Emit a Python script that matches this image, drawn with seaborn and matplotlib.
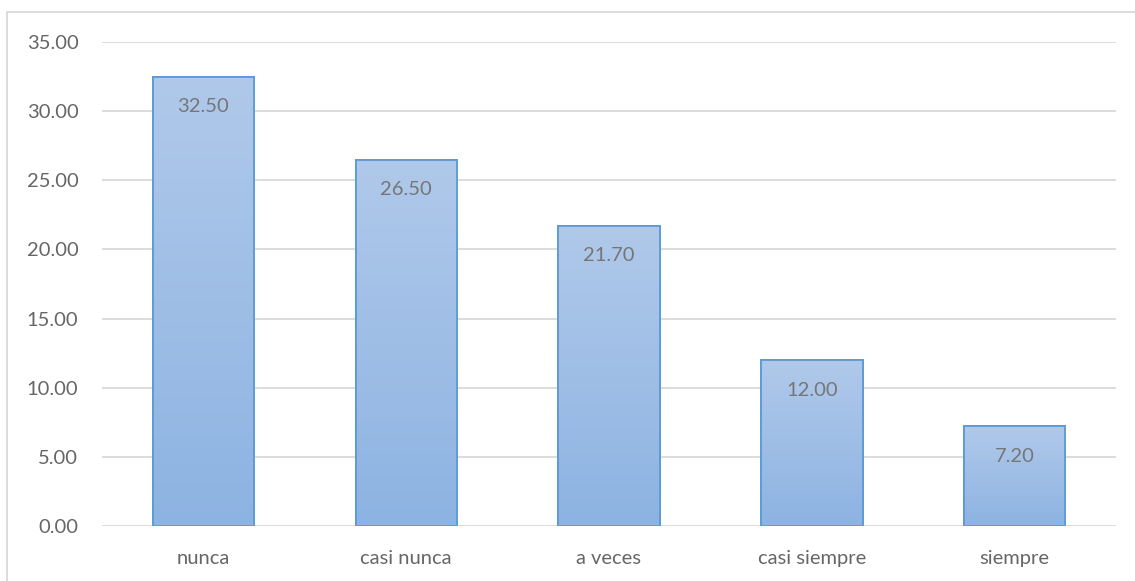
import numpy as np
import pandas as pd
import matplotlib
matplotlib.use("Agg")
import matplotlib.pyplot as plt
import matplotlib.patches as mpatches
from matplotlib.colors import LinearSegmentedColormap
import seaborn as sns

# ── DATA ──────────────────────────────────────────────────────
categories = ["nunca", "casi nunca", "a veces", "casi siempre", "siempre"]
values     = [32.50, 26.50, 21.70, 12.00, 7.20]
yticks     = [0, 5, 10, 15, 20, 25, 30, 35]

df = pd.DataFrame({"cat": categories, "val": values})

sns.set_style("white")
plt.rcParams["font.family"] = ["Lato", "DejaVu Sans"]

fig = plt.figure(figsize=(11.35, 5.81), dpi=100)
ax = fig.add_axes([102/1135, 1 - 526/581, (1116-102)/1135, (526-42)/581])

sns.barplot(data=df, x="cat", y="val", ax=ax, width=0.5,
            color="#a3bfe6", edgecolor="#5b9bd5", linewidth=1.3, zorder=2)

# Excel-style vertical gradient inside each bar
grad = LinearSegmentedColormap.from_list("g", ["#8db3e2", "#b0c9ea"])
for bar in ax.patches:
    x0, y0 = bar.get_x(), bar.get_y()
    w, h = bar.get_width(), bar.get_height()
    im = ax.imshow(np.linspace(0, 1, 256).reshape(-1, 1), cmap=grad, origin="lower",
                   extent=[x0, x0 + w, y0, y0 + h], aspect="auto", zorder=2.5)
    im.set_clip_path(bar)
    edge = mpatches.Rectangle((x0, y0), w, h, fill=False, edgecolor="#5b9bd5",
                              linewidth=1.3, zorder=3)
    ax.add_patch(edge)
    ax.annotate(f"{h:.2f}", xy=(x0 + w/2, y0 + h), xytext=(0, -30),
                textcoords="offset pixels",
                ha="center", va="center", fontsize=14.5, color="#767676", zorder=4)

ax.set_xlim(-0.5, len(categories) - 0.5)
ax.set_ylim(0, 35)
ax.set_yticks(yticks)
ax.set_yticklabels([f"{v:.2f}" for v in yticks])
ax.yaxis.grid(True, color="#d9d9d9", linewidth=1.3, zorder=0)
ax.set_axisbelow(True)
for s in ax.spines.values():
    s.set_visible(False)
ax.tick_params(axis="both", length=0, labelsize=14.5, labelcolor="#666666")
ax.tick_params(axis="y", pad=17)
ax.tick_params(axis="x", pad=17)
ax.set_xlabel("")
ax.set_ylabel("")

# chart area border
fig.patches.append(mpatches.Rectangle((7/1135, -0.05), 1.1, 1 - 12/581 + 0.05,
                                      transform=fig.transFigure, fill=False,
                                      edgecolor="#d9d9d9", linewidth=1.3))

fig.savefig("out.png", dpi=100)
